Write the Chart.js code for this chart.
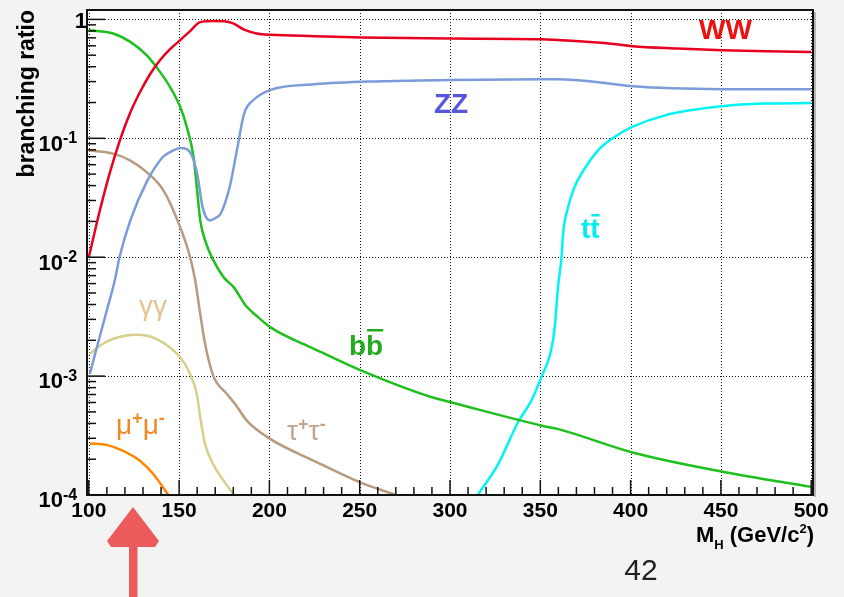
<!DOCTYPE html>
<html>
<head>
<meta charset="utf-8">
<script src="https://cdn.jsdelivr.net/npm/chart.js@4/dist/chart.umd.min.js"></script>
<style>
html,body{margin:0;padding:0;background:#f3f3f3;}
canvas{display:block;}
</style>
</head>
<body>
<canvas id="c" width="844" height="597"></canvas>
<script>
// ---- data (Higgs mass in GeV/c^2, branching ratio) ----
const massWW = [100,106.1,111.7,117.2,122.8,128.3,133.9,139.4,145,150.6,156.1,161.7,169,175,180,186,193,201,225,251,300,351,360,388,401,426,451,475,500];
const brWW   = [0.01,0.0247,0.0517,0.0962,0.1625,0.244,0.346,0.454,0.562,0.67,0.797,0.949,0.97,0.965,0.925,0.82,0.762,0.742,0.723,0.705,0.69,0.682,0.67,0.628,0.596,0.57,0.551,0.54,0.533];

const massZZ = [100.6,105,110,114.4,117,123,132,141,146,151,156,160,163,167,170,173,178,182,186,191,201,225,262,300,351,360,388,401,451,500];
const brZZ   = [0.00105,0.00187,0.00359,0.0064,0.01,0.0204,0.0428,0.0696,0.078,0.0828,0.0767,0.0504,0.0264,0.0204,0.0213,0.0232,0.0389,0.0792,0.161,0.209,0.257,0.285,0.302,0.31,0.314,0.314,0.289,0.274,0.259,0.258];

const massBB = [100,113.5,123,132,139.4,145,150.6,154.3,158,159.8,161.7,165,169,174.6,180.2,187,193,200.6,225,251,289,301,351,360,401,451,500];
const brBB   = [0.812,0.762,0.647,0.5,0.362,0.27,0.184,0.124,0.0696,0.0389,0.0204,0.013,0.0094,0.0068,0.0056,0.0039,0.0032,0.00257,0.00169,0.00111,0.00067,0.0006,0.000382,0.000358,0.000228,0.000157,0.000117];

const massTauTau = [100,113.5,122.8,132,141.3,150.6,156.1,158.9,161.7,164.4,169,176.5,181.1,187.6,200.6,224.6,250.6,270];
const brTauTau   = [0.0792,0.0743,0.0653,0.052,0.0365,0.0179,0.01,0.0064,0.00334,0.00186,0.001,0.000706,0.00058,0.00042,0.000295,0.000194,0.000127,0.0001];

const massGG = [100.6,106.1,113.5,126.5,137.6,150.6,156.1,159.8,161.7,164.4,169,174.6,180.5];
const brGG   = [0.00154,0.0018,0.00206,0.00223,0.00205,0.00144,0.00104,0.000706,0.00045,0.000268,0.00018,0.000132,0.0001];

const massMuMu = [100.6,109.8,119,128.3,135.7,144];
const brMuMu   = [0.000271,0.000264,0.000235,0.000194,0.00015,0.0001];

const massTT = [315.4,326.5,337.6,345,350.6,355.7,358,359.8,361.7,362.6,365.4,368.9,372.8,382,391.3,400.6,419,450.6,474.6,500];
const brTT   = [0.0001,0.00018,0.000407,0.00062,0.00098,0.00158,0.00257,0.0056,0.0098,0.0158,0.0264,0.0387,0.0504,0.0792,0.103,0.124,0.156,0.186,0.196,0.198];

// ---- axis ticks ----
const xMajorTicks = [100,150,200,250,300,350,400,450,500];
const xMinorStep = 10;
const yDecades = [1e-4,1e-3,1e-2,1e-1,1];
const yExponents = ['-4','-3','-2','-1',''];
const yMinorMult = [2,3,4,5,6,7,8,9];
const xTitle = ['M','H',' (GeV/c','2',')'];
const yTitle = 'branching ratio';
const pageNumber = '42';

function pts(m, b){ return m.map((v,i)=>({x:v, y:b[i]})); }

const FF = '"Liberation Sans", Arial, Helvetica, sans-serif';

function rich(ctx, x, y, parts, align){
  let w = 0;
  parts.forEach(p=>{ ctx.font = p.font; p.w = ctx.measureText(p.t).width; w += p.w; });
  let cx = align === 'right' ? x - w : (align === 'center' ? x - w/2 : x);
  ctx.textAlign = 'left';
  ctx.textBaseline = 'alphabetic';
  parts.forEach(p=>{ ctx.font = p.font; ctx.fillText(p.t, cx, y + (p.dy||0)); cx += p.w; });
  return w;
}

const rootStyle = {
  id: 'rootStyle',
  beforeDraw(chart){
    const {ctx, chartArea:a} = chart;
    ctx.save();
    ctx.fillStyle = '#f3f3f3';
    ctx.fillRect(0,0,chart.width,chart.height);
    ctx.fillStyle = '#ffffff';
    ctx.fillRect(a.left,a.top,a.right-a.left,a.bottom-a.top);
    ctx.restore();
  },
  beforeDatasetsDraw(chart){
    const {ctx, chartArea:a, scales:{x, y}} = chart;
    ctx.save();
    ctx.strokeStyle = '#111';
    ctx.lineWidth = 1;
    ctx.setLineDash([1,2]);
    xMajorTicks.forEach(v=>{
      const px = Math.round(x.getPixelForValue(v)) + 0.5;
      ctx.beginPath(); ctx.moveTo(px, a.top); ctx.lineTo(px, a.bottom); ctx.stroke();
    });
    yDecades.forEach(v=>{
      const py = Math.round(y.getPixelForValue(v)) + 0.5;
      ctx.beginPath(); ctx.moveTo(a.left, py); ctx.lineTo(a.right, py); ctx.stroke();
    });
    ctx.restore();
  },
  afterDatasetsDraw(chart){
    const {ctx, chartArea:a, scales:{x, y}} = chart;
    ctx.save();
    // ticks (inward)
    ctx.strokeStyle = '#111';
    ctx.lineWidth = 1.5;
    for (let v = xMajorTicks[0]; v <= xMajorTicks[xMajorTicks.length-1]; v += xMinorStep){
      const px = x.getPixelForValue(v);
      const len = (v % 50 === 0) ? 15 : 8;
      ctx.beginPath(); ctx.moveTo(px, a.bottom); ctx.lineTo(px, a.bottom - len); ctx.stroke();
    }
    yDecades.forEach((d,i)=>{
      const py = y.getPixelForValue(d);
      ctx.beginPath(); ctx.moveTo(a.left, py); ctx.lineTo(a.left + 18, py); ctx.stroke();
      if (i < yDecades.length - 1){
        yMinorMult.forEach(m=>{
          const pm = y.getPixelForValue(d*m);
          ctx.beginPath(); ctx.moveTo(a.left, pm); ctx.lineTo(a.left + 9, pm); ctx.stroke();
        });
      }
    });
    // frame
    ctx.strokeStyle = '#111';
    ctx.lineWidth = 2;
    ctx.strokeRect(a.left, a.top, a.right - a.left, a.bottom - a.top);
    ctx.fillStyle = 'rgba(0,0,0,0.25)';
    ctx.fillRect(a.right + 1, a.top + 2, 2, a.bottom - a.top);

    // x tick labels
    ctx.fillStyle = '#000';
    ctx.font = 'bold 21px ' + FF;
    ctx.textAlign = 'center';
    ctx.textBaseline = 'alphabetic';
    xMajorTicks.forEach(v=>{
      ctx.fillText(String(v), x.getPixelForValue(v), 517);
    });
    // y tick labels
    yDecades.forEach((d,i)=>{
      const py = y.getPixelForValue(d);
      if (yExponents[i] === ''){
        ctx.font = 'bold 22px ' + FF;
        ctx.textAlign = 'right';
        ctx.fillText('1', 87, py + 9);
      } else {
        ctx.textAlign = 'left';
        ctx.font = 'bold 22px ' + FF;
        ctx.fillText('10', 38.5, py + 12.3);
        ctx.font = 'bold 16px ' + FF;
        ctx.fillText(yExponents[i], 63, py + 4.5);
      }
    });
    // y title
    ctx.save();
    ctx.translate(34, 10);
    ctx.rotate(-Math.PI/2);
    ctx.font = 'bold 23px ' + FF;
    ctx.textAlign = 'right';
    ctx.fillText(yTitle, 0, 0);
    ctx.restore();
    // x title
    rich(ctx, 814, 542, [
      {t:xTitle[0], font:'bold 22px '+FF},
      {t:xTitle[1], font:'bold 13px '+FF, dy:6.5},
      {t:xTitle[2], font:'bold 22px '+FF},
      {t:xTitle[3], font:'bold 13px '+FF, dy:-9},
      {t:xTitle[4], font:'bold 22px '+FF}
    ], 'right');

    // in-plot channel labels
    ctx.font = 'bold 28px ' + FF;
    ctx.textAlign = 'left';
    ctx.fillStyle = '#ee1111';
    ctx.fillText('WW', 699, 39);
    ctx.fillStyle = '#5555dd';
    ctx.fillText('ZZ', 434, 113);
    ctx.fillStyle = '#00eeee';
    ctx.fillText('tt', 581, 238);
    let wt = ctx.measureText('t').width;
    ctx.fillRect(581 + wt + 1, 214, wt - 1, 2.5);
    ctx.fillStyle = '#22aa22';
    ctx.fillText('bb', 349, 355);
    let wb = ctx.measureText('b').width;
    ctx.fillRect(349 + wb + 1, 329, wb - 1, 2.5);
    ctx.fillStyle = '#e2c48e';
    ctx.font = '28px ' + FF;
    ctx.fillText('γγ', 139, 315);
    ctx.fillStyle = '#ee8a22';
    rich(ctx, 116, 434, [
      {t:'μ', font:'28px '+FF},
      {t:'+', font:'bold 18px '+FF, dy:-10},
      {t:'μ', font:'28px '+FF},
      {t:'-', font:'bold 18px '+FF, dy:-10}
    ], 'left');
    ctx.fillStyle = '#c2a48a';
    rich(ctx, 287, 440, [
      {t:'τ', font:'28px '+FF},
      {t:'+', font:'bold 18px '+FF, dy:-10},
      {t:'τ', font:'28px '+FF},
      {t:'-', font:'bold 18px '+FF, dy:-10}
    ], 'left');

    // hand-drawn arrow
    ctx.fillStyle = '#ec5b5b';
    ctx.beginPath();
    ctx.moveTo(133,507);
    ctx.lineTo(159,541);
    ctx.lineTo(155,547);
    ctx.lineTo(137.5,547);
    ctx.lineTo(137.5,597);
    ctx.lineTo(129,597);
    ctx.lineTo(129,547);
    ctx.lineTo(111,547);
    ctx.lineTo(107,541);
    ctx.closePath();
    ctx.fill();

    // page number
    ctx.fillStyle = '#222';
    ctx.font = '30px ' + FF;
    ctx.textAlign = 'center';
    ctx.fillText(pageNumber, 641, 580);
    ctx.restore();
  }
};

function ds(label, m, b, color){
  return {label, data: pts(m,b), borderColor: color, backgroundColor: color,
          borderWidth: 2.5, pointRadius: 0, fill: false, cubicInterpolationMode: 'monotone'};
}

new Chart(document.getElementById('c'), {
  type: 'line',
  data: {
    datasets: [
      ds('WW', massWW, brWW, '#e8001f'),
      ds('ZZ', massZZ, brZZ, '#7b9cd8'),
      ds('bb', massBB, brBB, '#1ec01e'),
      ds('tautau', massTauTau, brTauTau, '#b89a7e'),
      ds('gammagamma', massGG, brGG, '#d6d08c'),
      ds('mumu', massMuMu, brMuMu, '#ff8800'),
      ds('ttbar', massTT, brTT, '#00f4f4')
    ]
  },
  options: {
    responsive: false,
    animation: false,
    devicePixelRatio: 1,
    layout: {padding: {top: 10, right: 31, left: 0, bottom: 0}},
    plugins: {legend: {display: false}, tooltip: {enabled: false}},
    scales: {
      x: {type: 'linear', min: 99, max: 501, bounds: 'data',
          grid: {display: false}, border: {display: false}, ticks: {display: false},
          afterFit(s){ s.height = 102; }},
      y: {type: 'logarithmic', min: 1e-4, max: 1.2, bounds: 'data',
          grid: {display: false}, border: {display: false}, ticks: {display: false},
          afterFit(s){ s.width = 87; }}
    }
  },
  plugins: [rootStyle]
});
</script>
</body>
</html>
